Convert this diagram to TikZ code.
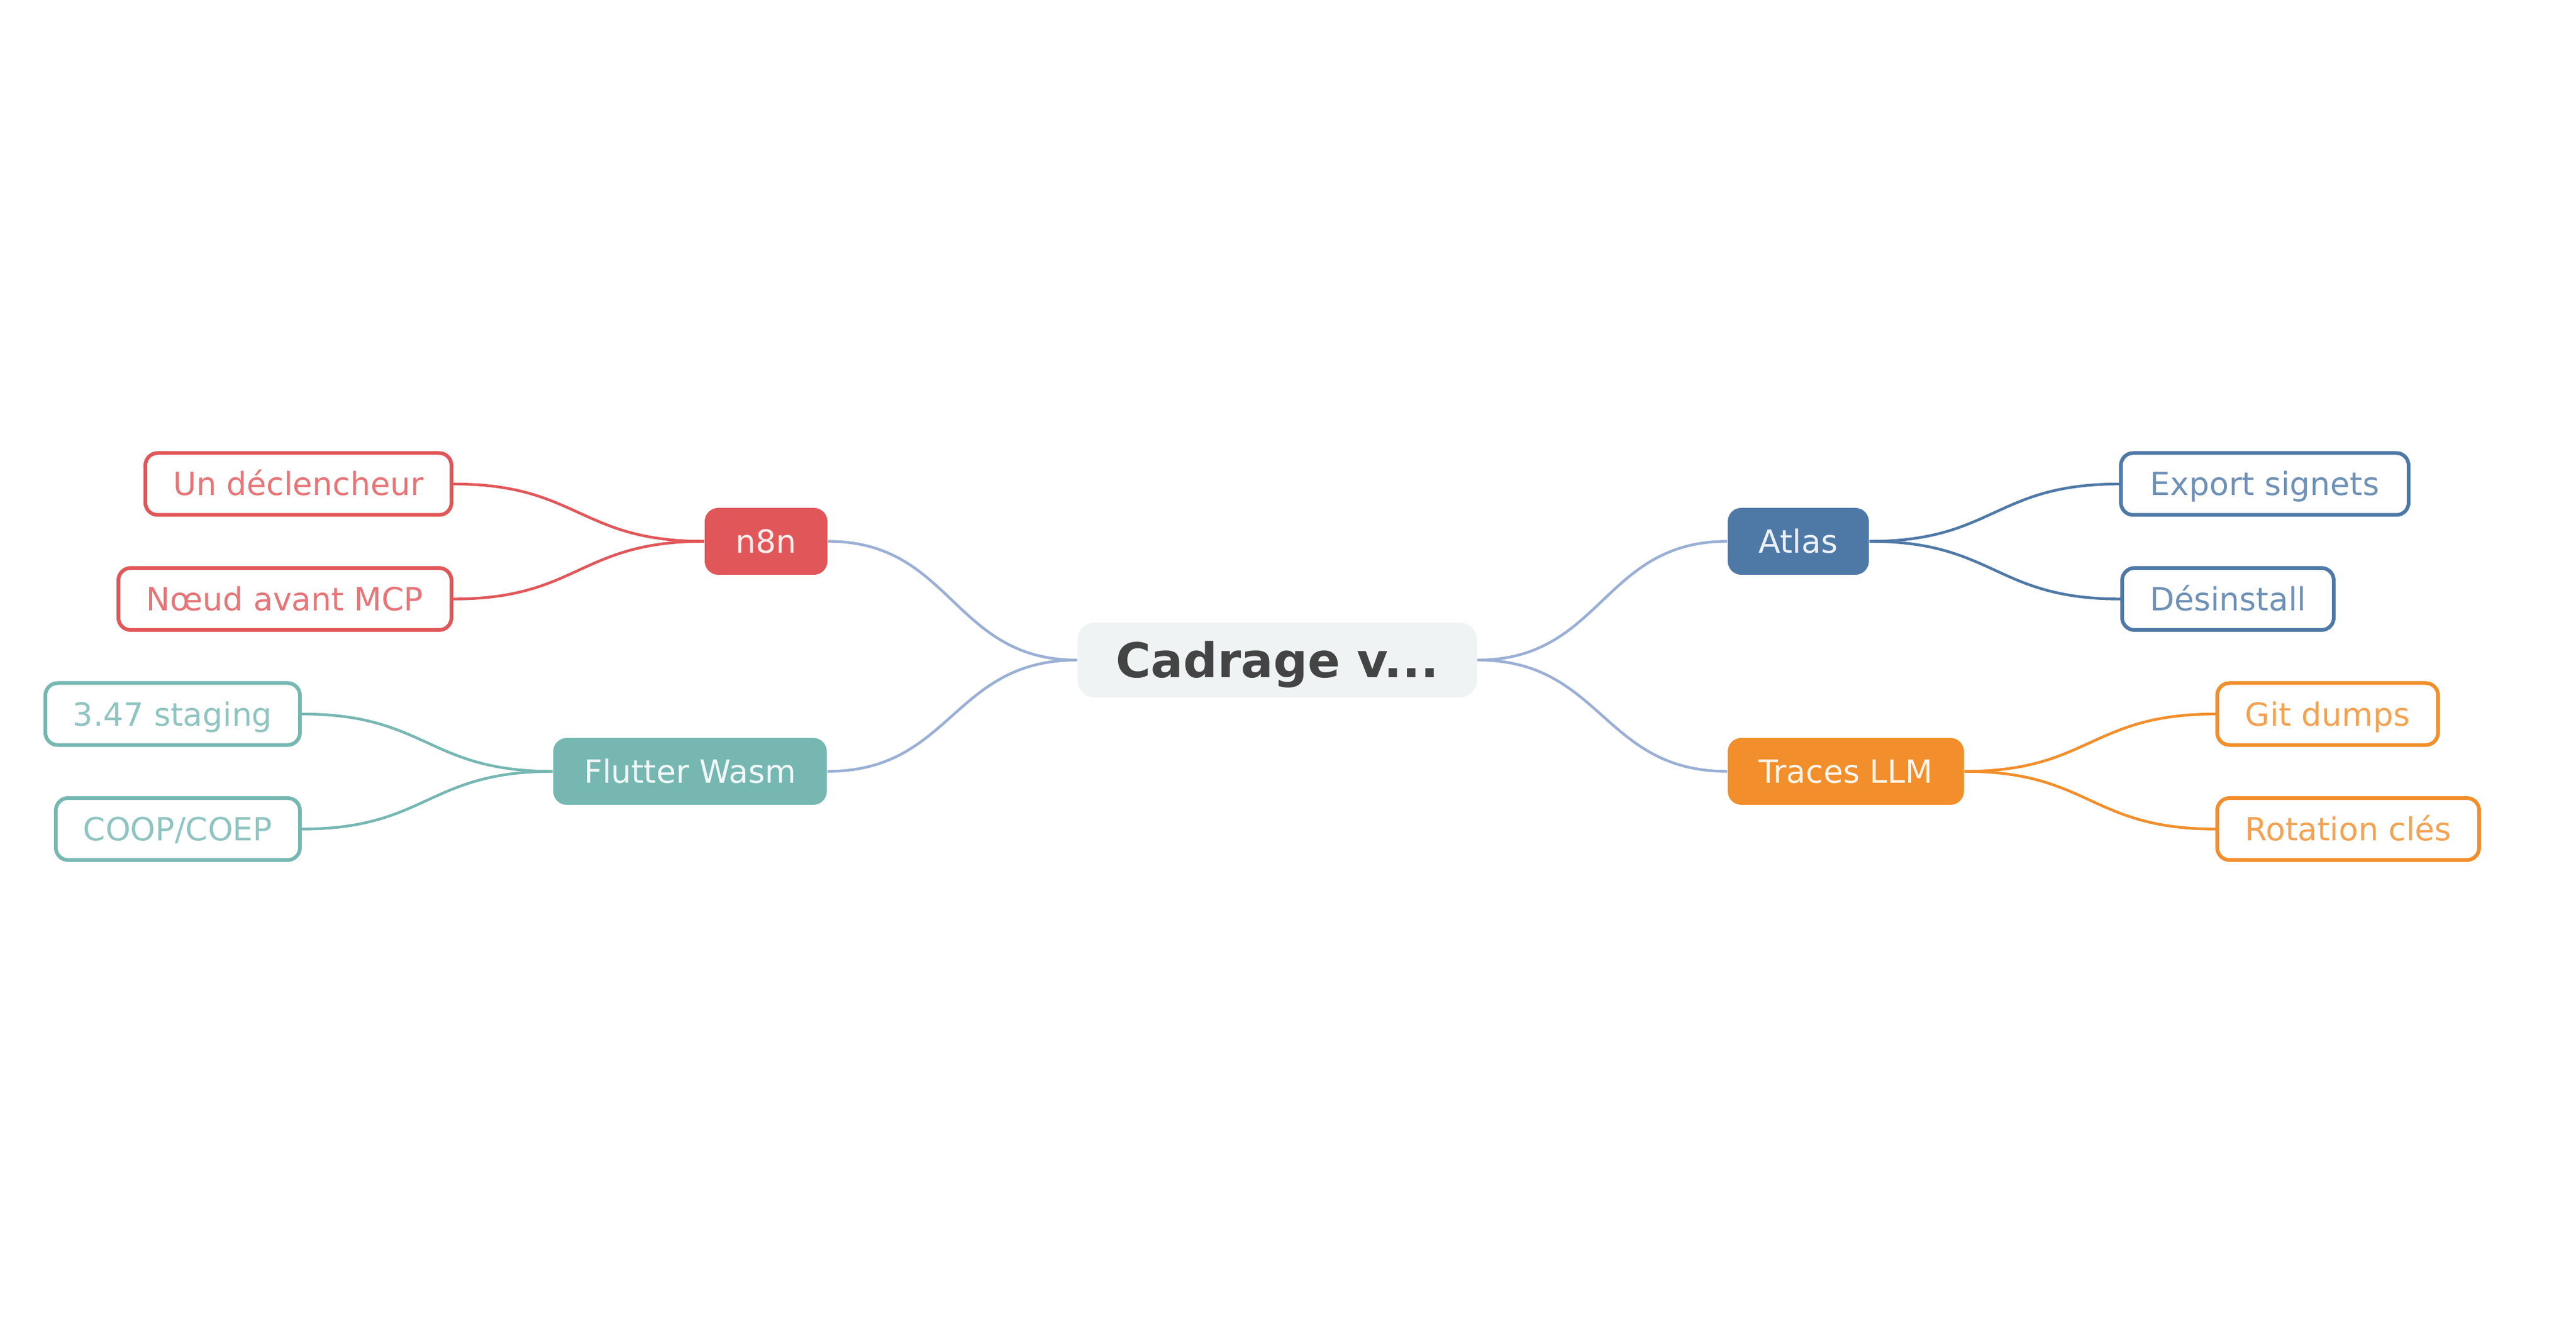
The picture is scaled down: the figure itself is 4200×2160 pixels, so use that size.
\documentclass[tikz,border=0pt]{standalone}
\usepackage{fontspec}
\setmainfont{DejaVu Sans}
\usetikzlibrary{calc}
\definecolor{cred}{HTML}{E15759}
\definecolor{cteal}{HTML}{76B7B2}
\definecolor{cblue}{HTML}{4E79A7}
\definecolor{corange}{HTML}{F28E2B}
\definecolor{centerfill}{HTML}{EFF3F3}
\definecolor{centertext}{HTML}{444444}
\definecolor{mainlink}{HTML}{9AAFD5}
\tikzset{
  sconn/.style={to path={let \p1=(\tikztostart), \p2=(\tikztotarget) in
      .. controls ({(\x1+\x2)/2},\y1) and ({(\x1+\x2)/2},\y2) .. (\tikztotarget)}},
  rootbox/.style={rectangle, rounded corners=7pt, fill=centerfill, text=centertext,
      inner sep=0pt, minimum width=162.75pt, minimum height=30.5pt,
      text height=14.2pt, text depth=0pt,
      font=\fontsize{19.5pt}{23pt}\selectfont\bfseries},
  branchbox/.style={rectangle, rounded corners=5.5pt, fill=#1, text=white!90!#1,
      inner sep=0pt, minimum height=27.25pt, text height=9.5pt, text depth=0pt,
      font=\fontsize{13pt}{15pt}\selectfont},
  leafbox/.style={rectangle, rounded corners=5pt, draw=#1, line width=1.5pt, fill=white,
      text=#1!82!white, inner sep=0pt, minimum height=25.25pt,
      text height=9.5pt, text depth=0pt,
      font=\fontsize{13pt}{15pt}\selectfont},
  mainline/.style={draw=mainlink, line width=1.1pt, sconn},
  leafline/.style={draw=#1, line width=1.1pt, sconn},
}
\begin{document}
\begin{tikzpicture}[x=0.25pt,y=-0.25pt]
\useasboundingbox (0,0) rectangle (4200,2160);
% root
\node[rootbox] (root) at (2082.5,1076) {Cadrage v...};
% branches
\node[branchbox=cred, minimum width=50pt] (n8n) at (1249,882.5) {n8n};
\node[branchbox=cteal, minimum width=111.5pt] (flutter) at (1125,1257.5) {Flutter Wasm};
\node[branchbox=cblue, minimum width=57.5pt] (atlas) at (2932,882.5) {Atlas};
\node[branchbox=corange, minimum width=96.25pt] (traces) at (3009.5,1257.5) {Traces LLM};
% leaves left
\node[leafbox=cred, minimum width=124.75pt] (decl) at (486.5,789) {Un déclencheur};
\node[leafbox=cred, minimum width=135.75pt] (noeud) at (464.5,976.5) {Nœud avant MCP};
\node[leafbox=cteal, minimum width=103.75pt] (stag) at (281.5,1164) {3.47 staging};
\node[leafbox=cteal, minimum width=99.5pt] (coop) at (290,1351.5) {COOP/COEP};
% leaves right
\node[leafbox=cblue, minimum width=117.25pt] (export) at (3692.5,789) {Export signets};
\node[leafbox=cblue, minimum width=86.25pt] (desinst) at (3632.5,976.5) {Désinstall};
\node[leafbox=corange, minimum width=90pt] (git) at (3795,1164) {Git dumps};
\node[leafbox=corange, minimum width=106.75pt] (rot) at (3828.5,1351.5) {Rotation clés};
% main connectors
\draw[mainline] (root.west) to (n8n.east);
\draw[mainline] (root.west) to (flutter.east);
\draw[mainline] (root.east) to (atlas.west);
\draw[mainline] (root.east) to (traces.west);
% leaf connectors
\draw[leafline=cred] (n8n.west) to (decl.east);
\draw[leafline=cred] (n8n.west) to (noeud.east);
\draw[leafline=cteal] (flutter.west) to (stag.east);
\draw[leafline=cteal] (flutter.west) to (coop.east);
\draw[leafline=cblue] (atlas.east) to (export.west);
\draw[leafline=cblue] (atlas.east) to (desinst.west);
\draw[leafline=corange] (traces.east) to (git.west);
\draw[leafline=corange] (traces.east) to (rot.west);
\end{tikzpicture}
\end{document}
